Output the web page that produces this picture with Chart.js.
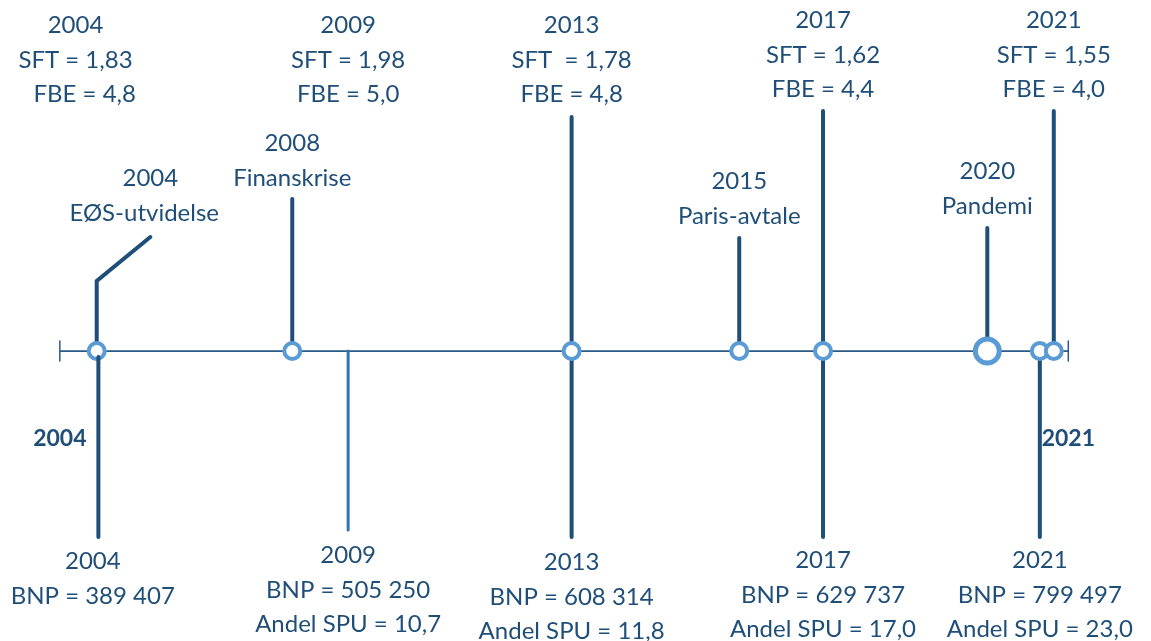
<!DOCTYPE html>
<html>
<head>
<meta charset="utf-8">
<script src="https://cdn.jsdelivr.net/npm/chart.js@4.4.0/dist/chart.umd.min.js"></script>
<style>
  html, body { margin: 0; padding: 0; background: #fff; }
  #wrap { width: 1151px; height: 641px; position: relative; }
</style>
</head>
<body>
<div id="wrap"><canvas id="timeline"></canvas></div>
<script>
// Upper info blocks (SFT / FBE)
const topYears = ['2004', '2009', '2013', '2017', '2021'];
const sftValues = ['1,83', '1,98', '1,78', '1,62', '1,55'];
const fbeValues = ['4,8', '5,0', '4,8', '4,4', '4,0'];
const topPos = [2003.62, 2008.5, 2012.5, 2017.0, 2021.13];

// Lower info blocks (BNP / Andel SPU)
const bottomYears = ['2004', '2009', '2013', '2017', '2021'];
const bnpValues = ['389 407', '505 250', '608 314', '629 737', '799 497'];
const spuValues = [null, '10,7', '11,8', '17,0', '23,0'];
const bottomPos = [2003.93, 2008.5, 2012.5, 2017.0, 2020.88];

// Events above the axis
const eventYears = ['2004', '2008', '2015', '2020'];
const eventNames = ['EØS-utvidelse', 'Finanskrise', 'Paris-avtale', 'Pandemi'];
const eventPos = [2004.85, 2007.5, 2015.5, 2019.94];

// Axis and markers (decimal years along the timeline)
const axisStart = 2003.34;
const axisEnd = 2021.39;
const markerPos = [2004.0, 2007.5, 2012.5, 2015.5, 2017.0, 2020.88, 2021.13];
const pandemicPos = 2019.94;

// Stems: position and length (px above / below axis)
const upperPos = [2007.5, 2012.5, 2015.5, 2017.0, 2019.94, 2021.13];
const upperLen = [152, 234, 113, 240, 123, 240];
const eosPath = [[2004.0, 0], [2004.0, 70], [2004.96, 114]];
const lowerPos = [2012.5, 2017.0, 2020.88];
const lowerLen = [186, 186, 186];
const lower2004 = [2004.03, 186];
const lower2009 = [2008.5, 179];

const DARK = '#1f4e79';
const MID = '#2e75b6';
const LIGHT = '#5b9bd5';

function stem(x, from, to, color, width, order) {
    return {
        data: [{ x: x, y: from }, { x: x, y: to }],
        showLine: true,
        borderColor: color,
        borderWidth: width,
        borderCapStyle: 'round',
        pointRadius: 0,
        order: order
    };
}

const datasets = [];

// Markers on the axis
datasets.push({
    data: markerPos.map(x => ({ x: x, y: 0 })),
    pointRadius: 8,
    pointBorderWidth: 4,
    pointBackgroundColor: '#ffffff',
    pointBorderColor: LIGHT,
    showLine: false,
    order: 0
});
datasets.push({
    data: [{ x: pandemicPos, y: 0 }],
    pointRadius: 12,
    pointBorderWidth: 5,
    pointBackgroundColor: '#ffffff',
    pointBorderColor: LIGHT,
    showLine: false,
    order: 0
});

// Axis line with end ticks
datasets.push({
    data: [{ x: axisStart, y: 0 }, { x: axisEnd, y: 0 }],
    showLine: true, borderColor: '#2a5a88', borderWidth: 1.75, pointRadius: 0, order: 3
});
datasets.push(stem(axisStart, -10, 10, '#2a5a88', 1.5, 3));
datasets.push(stem(axisEnd, -10, 10, '#2a5a88', 1.5, 3));

// Upper stems
upperPos.forEach((x, i) => datasets.push(stem(x, 0, upperLen[i], DARK, 4, 2)));
datasets.push({
    data: eosPath.map(p => ({ x: p[0], y: p[1] })),
    showLine: true, borderColor: DARK, borderWidth: 4, borderCapStyle: 'round',
    borderJoinStyle: 'miter', pointRadius: 0, order: 2
});

// Lower stems
lowerPos.forEach((x, i) => datasets.push(stem(x, 0, -lowerLen[i], DARK, 4, 2)));
datasets.push(stem(lower2004[0], -6, -lower2004[1], DARK, 4, -1));
datasets.push(stem(lower2009[0], 0, -lower2009[1], MID, 3, 2));

// Text labels drawn through the scales
const labelPlugin = {
    id: 'timelineLabels',
    afterDatasetsDraw(chart) {
        const ctx = chart.ctx;
        const xs = chart.scales.x;
        const ys = chart.scales.y;
        const lineGap = 34.5;
        const px = v => ys.getPixelForValue(v);
        ctx.save();
        ctx.fillStyle = DARK;
        ctx.textAlign = 'center';
        ctx.textBaseline = 'alphabetic';

        function block(x, baselineAbove, lines) {
            const cx = xs.getPixelForValue(x);
            const y0 = px(baselineAbove);
            lines.forEach((t, i) => {
                if (t) ctx.fillText(t, cx, y0 + i * lineGap);
            });
        }

        ctx.font = '24px Lato';
        // top blocks (baseline given as px above the axis)
        const topBase = [318, 318, 318, 323, 323];
        const sftSep = [' ', ' ', '  ', ' ', ' '];
        const fbeLead = ['   ', '', '', '', ''];
        topYears.forEach((y, i) => {
            block(topPos[i], topBase[i], [
                y,
                'SFT' + sftSep[i] + '= ' + sftValues[i],
                fbeLead[i] + 'FBE = ' + fbeValues[i]
            ]);
        });

        // events
        const eventBase = [165, 200, 162, 172];
        const eventLead = ['  ', '', '', ''];
        eventYears.forEach((y, i) => {
            block(eventPos[i], eventBase[i], [eventLead[i] + y, eventNames[i]]);
        });

        // bottom blocks
        const bottomBase = [-218, -212, -219, -217, -217];
        bottomYears.forEach((y, i) => {
            block(bottomPos[i], bottomBase[i], [
                y,
                'BNP = ' + bnpValues[i],
                spuValues[i] ? 'Andel SPU = ' + spuValues[i] : null
            ]);
        });

        // bold year marks at the axis ends
        ctx.font = 'bold 23px Lato';
        ctx.fillText('2004', xs.getPixelForValue(axisStart), px(-95));
        ctx.fillText('2021', xs.getPixelForValue(axisEnd), px(-95));
        ctx.restore();
    }
};

new Chart(document.getElementById('timeline'), {
    type: 'scatter',
    data: { datasets: datasets },
    options: {
        responsive: true,
        maintainAspectRatio: false,
        animation: false,
        layout: { padding: 0, autoPadding: false },
        plugins: {
            legend: { display: false },
            tooltip: { enabled: false }
        },
        scales: {
            x: { type: 'linear', display: false, min: 2002.269, max: 2022.870 },
            y: { type: 'linear', display: false, min: -290, max: 351 }
        }
    },
    plugins: [labelPlugin]
});
</script>
</body>
</html>
